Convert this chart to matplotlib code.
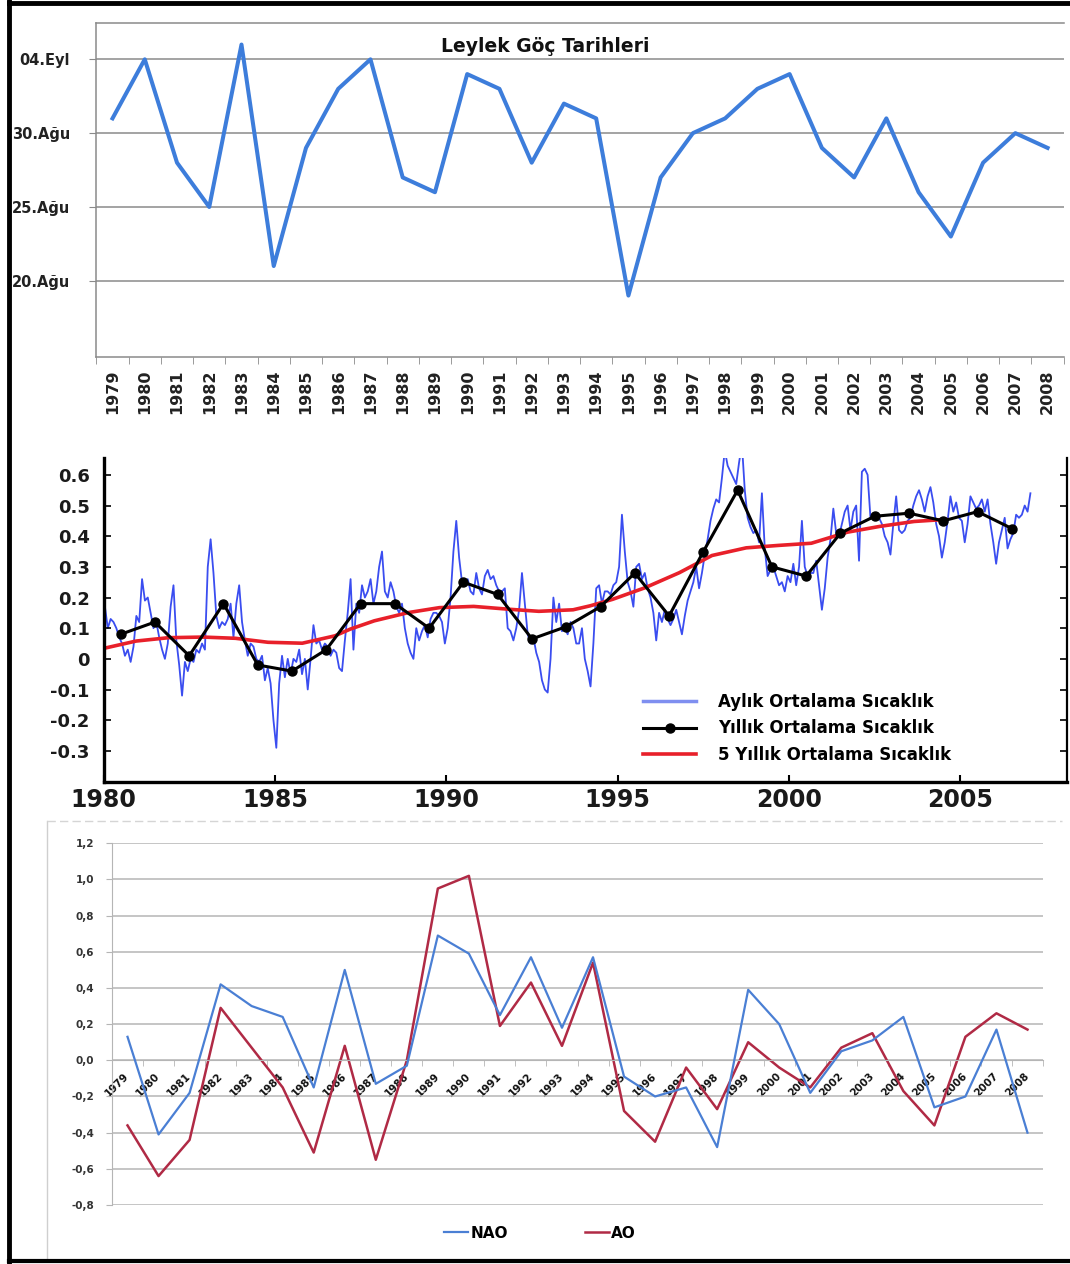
import numpy as np
import matplotlib
matplotlib.use("Agg")
import matplotlib.pyplot as plt
from matplotlib.lines import Line2D

# ---------------- DATA ----------------
# Panel 1: stork migration dates (day of August; 35 = 04 Sep)
goc_yillar = list(range(1979, 2009))
goc_gunu = [31, 35, 28, 25, 36, 21, 29, 33, 35, 27, 26, 34, 33, 28, 32,
            31, 19, 27, 30, 31, 33, 34, 29, 27, 31, 26, 23, 28, 30, 29]
goc_ytick_deger = [20, 25, 30, 35]
goc_ytick_etiket = ['20.Ağu', '25.Ağu', '30.Ağu', '04.Eyl']
goc_baslik = 'Leylek Göç Tarihleri'

# Panel 2: temperature anomalies
aylik_baslangic = 1980
aylik = [
    0.17, 0.10, 0.13, 0.12, 0.10, 0.07, 0.05, 0.01, 0.03, -0.01, 0.04, 0.14,     # 1980
    0.12, 0.26, 0.19, 0.20, 0.15, 0.10, 0.12, 0.07, 0.03, 0.00, 0.05, 0.17,      # 1981
    0.24, 0.06, -0.02, -0.12, -0.01, -0.04, 0.00, -0.01, 0.03, 0.02, 0.05, 0.03, # 1982
    0.30, 0.39, 0.28, 0.14, 0.10, 0.12, 0.11, 0.13, 0.18, 0.07, 0.18, 0.24,      # 1983
    0.12, 0.06, 0.01, 0.05, 0.04, 0.00, -0.01, 0.01, -0.07, -0.03, -0.08, -0.20, # 1984
    -0.29, -0.08, 0.01, -0.06, 0.00, -0.05, 0.00, -0.01, 0.03, -0.05, 0.00, -0.10,  # 1985
    0.00, 0.11, 0.05, 0.06, 0.03, 0.05, 0.04, 0.01, 0.03, 0.02, -0.03, -0.04,    # 1986
    0.06, 0.15, 0.26, 0.03, 0.18, 0.15, 0.24, 0.20, 0.22, 0.26, 0.18, 0.22,      # 1987
    0.30, 0.35, 0.22, 0.20, 0.25, 0.22, 0.17, 0.15, 0.18, 0.10, 0.05, 0.02,      # 1988
    0.00, 0.10, 0.06, 0.09, 0.11, 0.07, 0.13, 0.15, 0.15, 0.14, 0.12, 0.05,      # 1989
    0.10, 0.20, 0.35, 0.45, 0.33, 0.25, 0.24, 0.26, 0.22, 0.21, 0.28, 0.23,      # 1990
    0.21, 0.27, 0.29, 0.26, 0.27, 0.24, 0.22, 0.22, 0.23, 0.10, 0.09, 0.06,      # 1991
    0.10, 0.16, 0.28, 0.18, 0.08, 0.05, 0.07, 0.02, -0.01, -0.07, -0.10, -0.11,  # 1992
    0.00, 0.20, 0.12, 0.18, 0.09, 0.10, 0.08, 0.12, 0.10, 0.05, 0.05, 0.10,      # 1993
    0.00, -0.04, -0.09, 0.05, 0.23, 0.24, 0.18, 0.22, 0.22, 0.21, 0.24, 0.25,    # 1994
    0.30, 0.47, 0.35, 0.25, 0.22, 0.17, 0.30, 0.31, 0.26, 0.28, 0.23, 0.20,      # 1995
    0.15, 0.06, 0.15, 0.12, 0.16, 0.13, 0.11, 0.13, 0.16, 0.12, 0.08, 0.14,      # 1996
    0.19, 0.22, 0.25, 0.30, 0.23, 0.28, 0.34, 0.39, 0.45, 0.49, 0.52, 0.51,      # 1997
    0.59, 0.68, 0.63, 0.61, 0.59, 0.57, 0.64, 0.70, 0.55, 0.46, 0.43, 0.41,      # 1998
    0.42, 0.38, 0.54, 0.36, 0.27, 0.29, 0.30, 0.27, 0.24, 0.25, 0.22, 0.27,      # 1999
    0.25, 0.31, 0.24, 0.30, 0.45, 0.30, 0.27, 0.28, 0.28, 0.32, 0.24, 0.16,      # 2000
    0.23, 0.33, 0.39, 0.49, 0.41, 0.40, 0.44, 0.48, 0.50, 0.42, 0.48, 0.50,      # 2001
    0.32, 0.61, 0.62, 0.60, 0.46, 0.46, 0.46, 0.46, 0.44, 0.40, 0.38, 0.34,      # 2002
    0.44, 0.53, 0.42, 0.41, 0.42, 0.45, 0.46, 0.50, 0.53, 0.55, 0.52, 0.48,      # 2003
    0.53, 0.56, 0.51, 0.44, 0.40, 0.33, 0.38, 0.45, 0.53, 0.48, 0.51, 0.46,      # 2004
    0.45, 0.38, 0.44, 0.53, 0.51, 0.49, 0.50, 0.52, 0.48, 0.52, 0.44, 0.38,      # 2005
    0.31, 0.38, 0.42, 0.46, 0.36, 0.39, 0.41, 0.47, 0.46, 0.47, 0.50, 0.48,      # 2006
    0.54,                                                                        # 2007
]
yillik_yil = list(range(1980, 2007))
yillik = [0.08, 0.12, 0.01, 0.18, -0.02, -0.04, 0.03, 0.18, 0.18, 0.10,
          0.25, 0.21, 0.065, 0.105, 0.17, 0.28, 0.14, 0.35, 0.55, 0.30,
          0.27, 0.41, 0.465, 0.475, 0.45, 0.48, 0.425]
bes_yil_x = [1980.0, 1980.95, 1981.9, 1982.9, 1983.85, 1984.8, 1985.8, 1986.75,
             1987.2, 1987.9, 1988.9, 1989.8, 1990.8, 1991.8, 1992.7, 1993.7,
             1994.2, 1994.85, 1995.8, 1996.8, 1997.75, 1998.75, 1999.7,
             2000.65, 2001.7, 2002.65, 2003.65, 2004.6]
bes_yil_y = [0.034, 0.058, 0.069, 0.071, 0.067, 0.054, 0.051, 0.075,
             0.097, 0.124, 0.151, 0.167, 0.171, 0.162, 0.155, 0.160,
             0.173, 0.194, 0.232, 0.281, 0.337, 0.362, 0.370,
             0.377, 0.413, 0.432, 0.448, 0.455]
orta_xticks = [1980, 1985, 1990, 1995, 2000, 2005]
orta_yticks = [-0.3, -0.2, -0.1, 0.0, 0.1, 0.2, 0.3, 0.4, 0.5, 0.6]
orta_etiketler = ['Aylık Ortalama Sıcaklık', 'Yıllık Ortalama Sıcaklık',
                  '5 Yıllık Ortalama Sıcaklık']

# Panel 3: NAO / AO indices
endeks_yillar = list(range(1979, 2009))
nao = [0.13, -0.41, -0.18, 0.42, 0.30, 0.24, -0.15, 0.50, -0.13, -0.03,
       0.69, 0.59, 0.25, 0.57, 0.18, 0.57, -0.09, -0.20, -0.15, -0.48,
       0.39, 0.20, -0.18, 0.05, 0.11, 0.24, -0.26, -0.20, 0.17, -0.40]
ao = [-0.36, -0.64, -0.44, 0.29, 0.07, -0.15, -0.51, 0.08, -0.55, 0.00,
      0.95, 1.02, 0.19, 0.43, 0.08, 0.54, -0.28, -0.45, -0.04, -0.27,
      0.10, -0.04, -0.15, 0.07, 0.15, -0.17, -0.36, 0.13, 0.26, 0.17]
alt_yticks = [-0.8, -0.6, -0.4, -0.2, 0.0, 0.2, 0.4, 0.6, 0.8, 1.0, 1.2]

# ---------------- FIGURE ----------------
W, H = 1070, 1264
plt.rcParams['font.family'] = ['DejaVu Sans']
fig = plt.figure(figsize=(W / 100, H / 100), dpi=100)
fig.patch.set_facecolor('white')


def rect(l, t, r, b):
    return [l / W, 1 - b / H, (r - l) / W, (b - t) / H]


# ---- Panel 1 ----
GRID1 = '#8a8a8a'
ax1 = fig.add_axes(rect(96.4, 22.7, 1063.7, 356.7))
x1 = np.arange(len(goc_yillar))
ax1.plot(x1, goc_gunu, color='#3d7ddb', lw=2.9, solid_joinstyle='round', zorder=3)
ax1.set_xlim(-0.5, len(goc_yillar) - 0.5)
ax1.set_ylim(14.86, 37.48)
ax1.set_yticks(goc_ytick_deger)
ax1.set_yticklabels(goc_ytick_etiket, fontsize=10.5, fontweight='bold', color='#222222')
ax1.yaxis.grid(True, color=GRID1, lw=1.1)
ax1.set_axisbelow(True)
ax1.set_xticks(x1)
ax1.set_xticklabels([str(y) for y in goc_yillar], rotation=90, fontsize=11.5,
                    fontweight='bold', color='#222222')
ax1.set_xticks(np.arange(-0.5, len(goc_yillar), 1), minor=True)
ax1.tick_params(axis='x', which='major', length=0, pad=9)
ax1.tick_params(axis='x', which='minor', length=5, color=GRID1, direction='out')
ax1.tick_params(axis='y', length=5, color=GRID1, pad=14)
for s in ['left', 'bottom', 'top']:
    ax1.spines[s].set_color(GRID1)
    ax1.spines[s].set_linewidth(1.1)
ax1.spines['right'].set_visible(False)
ax1.text((545 - 96.4) / 967.3, (356.7 - 46.7) / 334, goc_baslik, transform=ax1.transAxes,
         ha='center', va='center', fontsize=13.5, fontweight='bold', color='#111111')

# ---- Panel 2 ----
ax2 = fig.add_axes(rect(103.5, 458, 1066.7, 781.5))
t = aylik_baslangic + (np.arange(len(aylik)) + 0.5) / 12.0
yx = np.array(yillik_yil) + 0.5
ax2.plot(t, aylik, color='#3a4df0', lw=1.3, zorder=1)
ax2.plot(bes_yil_x, bes_yil_y, color='#e8202a', lw=2.6, zorder=2, solid_capstyle='round')
ax2.plot(yx, yillik, color='black', lw=2.2, marker='o', ms=6.5, zorder=3)
ax2.set_xlim(1980.0, 2008.1)
ax2.set_ylim(-0.40, 0.655)
ax2.set_xticks(orta_xticks)
ax2.set_xticklabels([str(v) for v in orta_xticks], fontsize=17, fontweight='bold',
                    color='#1a1a1a')
ax2.set_yticks(orta_yticks)
ax2.set_yticklabels([f"{v:g}" for v in orta_yticks], fontsize=13, fontweight='bold',
                    color='#1a1a1a')
ax2.tick_params(axis='x', direction='in', length=5, width=1.5, pad=5)
ax2.tick_params(axis='y', direction='in', length=5, width=1.2, pad=10,
                right=True, labelright=False)
ax2.spines['top'].set_visible(False)
ax2.spines['left'].set_linewidth(2.4)
ax2.spines['bottom'].set_linewidth(2.4)
ax2.spines['right'].set_linewidth(1.6)
h_blue = Line2D([], [], color='#7f8ff0', lw=2.5)
h_black = Line2D([], [], color='black', lw=2.2, marker='o', ms=6.5)
h_red = Line2D([], [], color='#e8202a', lw=2.6)
ax2.legend([h_blue, h_black, h_red], orta_etiketler, loc='upper left',
           bbox_to_anchor=(643 / W, 1 - 693 / H), bbox_transform=fig.transFigure,
           frameon=False, borderpad=0, borderaxespad=0, handlelength=3.2,
           handletextpad=1.3, labelspacing=0.5,
           prop=dict(weight='bold', size=12))

# ---- Panel 3 ----
GRID3 = '#b5b5b5'
ax3 = fig.add_axes(rect(112, 843.3, 1043, 1205))
x3 = np.arange(len(endeks_yillar))
ax3.plot(x3, nao, color='#4a7fd4', lw=1.6, zorder=3)
ax3.plot(x3, ao, color='#b02a45', lw=1.8, zorder=2)
ax3.set_xlim(-0.5, len(endeks_yillar) - 0.5)
ax3.set_ylim(-0.8, 1.2)
ax3.set_yticks(alt_yticks)
ax3.set_yticklabels([f"{v:.1f}".replace('.', ',').replace('-0,0', '0,0') for v in alt_yticks],
                    fontsize=7.5, fontweight='bold', color='#333333')
ax3.yaxis.grid(True, color=GRID3, lw=1.1)
ax3.set_axisbelow(True)
ax3.spines['bottom'].set_position(('data', 0))
ax3.spines['bottom'].set_color(GRID3)
ax3.spines['left'].set_color(GRID3)
ax3.spines['top'].set_visible(False)
ax3.spines['right'].set_visible(False)
ax3.set_xticks(x3)
ax3.set_xticklabels([str(y) for y in endeks_yillar], rotation=45, ha='right', va='center',
                    rotation_mode='anchor', fontsize=7.5, fontweight='bold', color='#111111')
ax3.set_xticks(np.arange(-0.5, len(endeks_yillar), 1), minor=True)
ax3.tick_params(axis='x', which='major', length=0, pad=10)
ax3.tick_params(axis='x', which='minor', length=4, color=GRID3, direction='out')
ax3.tick_params(axis='y', length=4, color=GRID3, pad=9)
ax3.legend([Line2D([], [], color='#4a7fd4', lw=1.6), Line2D([], [], color='#b02a45', lw=1.8)],
           ['NAO', 'AO'], loc='center', bbox_to_anchor=(540 / W, 1 - 1233 / H),
           bbox_transform=fig.transFigure, ncol=2, frameon=False, handlelength=1.6,
           handletextpad=0.15, columnspacing=5.0, prop=dict(weight='bold', size=11))

# ---- frames ----
tf = fig.transFigure
fig.add_artist(Line2D([47 / W, 47 / W], [1 - 821 / H, 1 - 1261 / H], transform=tf,
                      color='#cfcfcf', lw=1.0))
fig.add_artist(Line2D([47 / W, 1062 / W], [1 - 821 / H, 1 - 821 / H], transform=tf,
                      color='#d5d5d5', lw=1.0, ls=(0, (6, 3))))
fig.add_artist(Line2D([9 / W, 9 / W], [0, 1], transform=tf, color='black', lw=3.5))
fig.add_artist(Line2D([9 / W, 1], [1 - 3 / H, 1 - 3 / H], transform=tf, color='black', lw=3.5))
fig.add_artist(Line2D([9 / W, 1], [1 - 1261 / H, 1 - 1261 / H], transform=tf, color='black', lw=3.0))

fig.savefig('out.png', dpi=100, facecolor='white')
